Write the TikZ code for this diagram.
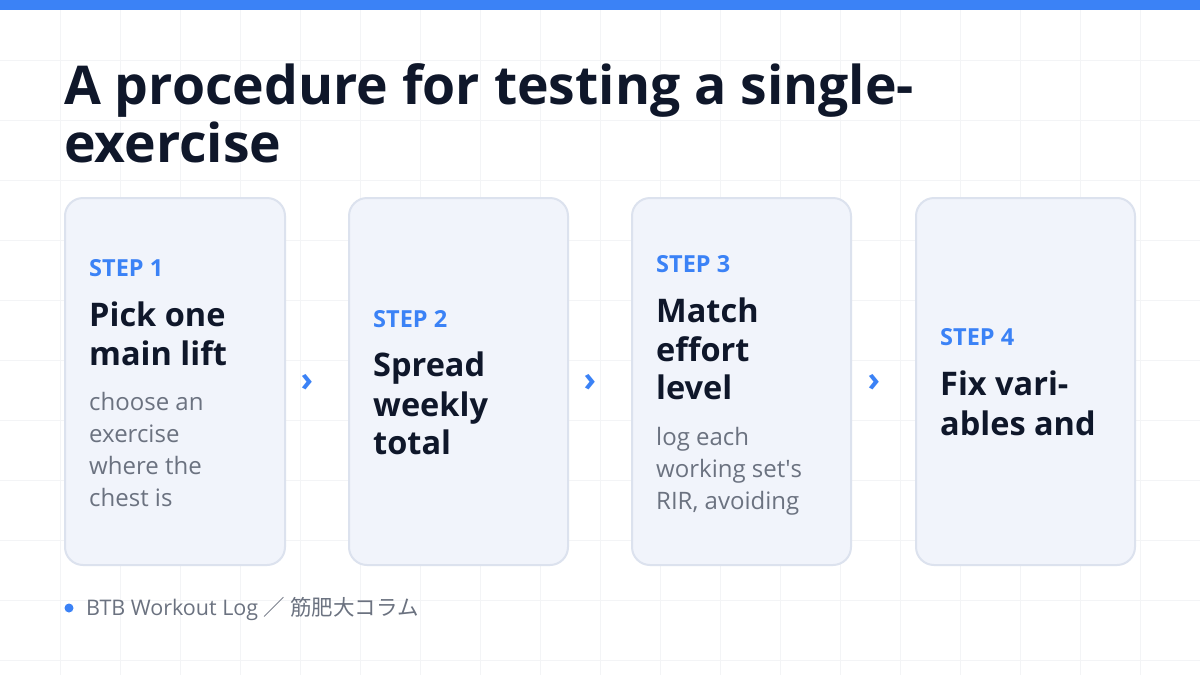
\documentclass[tikz,border=0pt]{standalone}
\usepackage{fontspec}
\setmainfont{Open Sans}
\newfontfamily\cjk{Noto Sans CJK JP}
\definecolor{blue}{HTML}{3B82F6}
\definecolor{ink}{HTML}{0F172A}
\definecolor{gray}{HTML}{6B7280}
\definecolor{card}{HTML}{F1F4FB}
\definecolor{cardline}{HTML}{DCE2EE}
\definecolor{grid}{HTML}{F3F4F6}
\begin{document}
\begin{tikzpicture}[x=1pt,y=-1pt,
  cardbox/.style={draw=cardline,line width=2pt,fill=card,rounded corners=18pt},
  steplbl/.style={anchor=base west,inner sep=0,text=blue,font=\fontsize{23.5}{26}\selectfont\bfseries},
  head/.style={anchor=base west,inner sep=0,text=ink,font=\fontsize{32.5}{36}\selectfont\bfseries},
  body/.style={anchor=base west,inner sep=0,text=gray,font=\fontsize{24}{26}\selectfont},
  arr/.style={text=blue,font=\fontsize{34}{36}\selectfont\bfseries,inner sep=0}]
\useasboundingbox (0,0) rectangle (1200,675);
\fill[white] (0,0) rectangle (1200,675);
\foreach \x in {60,120,...,1140} \draw[grid,line width=0.8pt] (\x,10) -- (\x,675);
\foreach \y in {60,120,...,660} \draw[grid,line width=0.8pt] (0,\y) -- (1200,\y);
\fill[blue] (0,0) rectangle (1200,10);
\node[anchor=base west,inner sep=0,text=ink,font=\fontsize{53.5}{58}\selectfont\bfseries] (t1) at (64,104) {A procedure for testing a single-};
\node[anchor=base west,inner sep=0,text=ink,font=\fontsize{53.5}{58}\selectfont\bfseries] (t2) at (64,162) {exercise};
\path[cardbox] (65,198) rectangle (285,565);
\path[cardbox] (349,198) rectangle (568,565);
\path[cardbox] (632,198) rectangle (851,565);
\path[cardbox] (916,198) rectangle (1135,565);
% card 1
\node[steplbl] (s1) at (89,276) {STEP 1};
\node[head] (h1a) at (89,326) {Pick one};
\node[head] (h1b) at (89,365) {main lift};
\node[body] (b1a) at (89,410) {choose an};
\node[body] (b1b) at (89,442) {exercise};
\node[body] (b1c) at (89,474) {where the};
\node[body] (b1d) at (89,506) {chest is};
% card 2
\node[steplbl] (s2) at (373,327) {STEP 2};
\node[head] (h2a) at (373,376) {Spread};
\node[head] (h2b) at (373,416) {weekly};
\node[head] (h2c) at (373,454) {total};
% card 3
\node[steplbl] (s3) at (656,272) {STEP 3};
\node[head] (h3a) at (656,322) {Match};
\node[head] (h3b) at (656,361) {effort};
\node[head] (h3c) at (656,399) {level};
\node[body] (b3a) at (656,445) {log each};
\node[body] (b3b) at (656,477) {working set\textquotesingle s};
\node[body] (b3c) at (656,509) {RIR, avoiding};
% card 4
\node[steplbl] (s4) at (940,345) {STEP 4};
\node[head] (h4a) at (940,395) {Fix vari-};
\node[head] (h4b) at (940,435) {ables and};
% arrows
\node[arr] (a1) at (307,383) {›};
\node[arr] (a2) at (590,383) {›};
\node[arr] (a3) at (874,383) {›};
% footer
\fill[blue] (69,608) circle (4.5pt);
\node[anchor=base west,inner sep=0,text=gray,font=\fontsize{21.5}{22}\selectfont] (f) at (86,615) {BTB Workout Log {\cjk ／ 筋肥大コラム}};
\end{tikzpicture}
\end{document}
